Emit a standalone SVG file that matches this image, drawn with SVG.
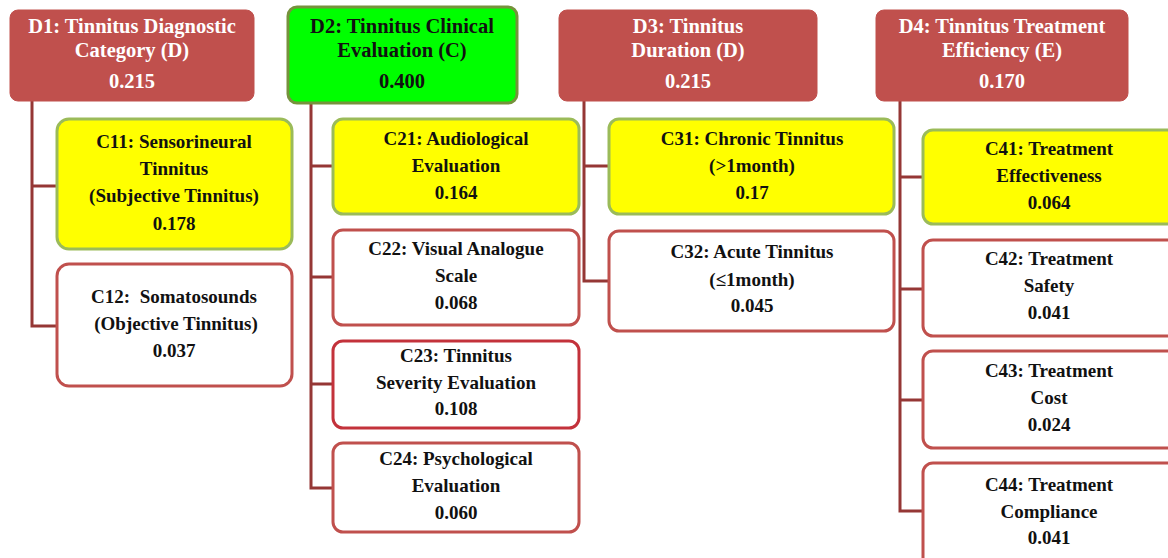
<svg xmlns="http://www.w3.org/2000/svg" width="1168" height="558" viewBox="0 0 1168 558">
<style>
text{font-family:"Liberation Serif","Times New Roman",serif;font-weight:bold;text-anchor:middle;}
.h{font-size:20.5px;fill:#ffffff;}
.h2{font-size:20.5px;fill:#111111;}
.c{font-size:19px;fill:#111111;white-space:pre;}
.dr{fill:#c0504d;stroke:#c0504d;stroke-width:1;}
.dg{fill:#00ff00;stroke:#76923c;stroke-width:3;}
.y{fill:#ffff00;stroke:#9bbb59;stroke-width:3;}
.w{fill:#ffffff;stroke:#c0504d;stroke-width:3;}
.w2{fill:#ffffff;stroke:#c3323b;stroke-width:3;}
.ln{fill:none;stroke:#953735;stroke-width:3;}
</style>
<rect width="1168" height="558" fill="#ffffff"/>
<g id="connectors">
<path class="ln" d="M32,101 V326 H57 M32,186 H57"/>
<path class="ln" d="M311,104 V488 H333 M311,166 H333 M311,277 H333 M311,384 H333"/>
<path class="ln" d="M584,101 V281 H609 M584,166 H609"/>
<path class="ln" d="M900,101 V511 H923 M900,177 H923 M900,289 H923 M900,400 H923"/>
</g>
<g id="D1"><rect class="dr" x="10" y="10" width="244" height="91" rx="8"/>
<text class="h" x="132" y="33">D1: Tinnitus Diagnostic</text><text class="h" x="132" y="57">Category (D)</text><text class="h" x="132" y="88">0.215</text></g>
<g id="D2"><rect class="dg" x="288" y="7" width="229" height="96" rx="9"/>
<text class="h2" x="402" y="33">D2: Tinnitus Clinical</text><text class="h2" x="402" y="57">Evaluation (C)</text><text class="h2" x="402" y="88">0.400</text></g>
<g id="D3"><rect class="dr" x="559" y="10" width="258" height="91" rx="8"/>
<text class="h" x="688" y="33">D3: Tinnitus</text><text class="h" x="688" y="57">Duration (D)</text><text class="h" x="688" y="88">0.215</text></g>
<g id="D4"><rect class="dr" x="876" y="10" width="252" height="91" rx="8"/>
<text class="h" x="1002" y="33">D4: Tinnitus Treatment</text><text class="h" x="1002" y="57">Efficiency (E)</text><text class="h" x="1002" y="88">0.170</text></g>
<g id="C11"><rect class="y" x="57" y="119" width="235" height="130" rx="12"/>
<text class="c" x="174" y="148">C11: Sensorineural</text><text class="c" x="174" y="175">Tinnitus</text><text class="c" x="174" y="202">(Subjective Tinnitus)</text><text class="c" x="174" y="230">0.178</text></g>
<g id="C12"><rect class="w" x="57" y="264" width="235" height="122" rx="12"/>
<text class="c" x="174" y="303">C12:  Somatosounds</text><text class="c" x="176" y="330">(Objective Tinnitus)</text><text class="c" x="174" y="357">0.037</text></g>
<g id="C21"><rect class="y" x="333" y="119" width="246" height="95" rx="10"/>
<text class="c" x="456" y="145">C21: Audiological</text><text class="c" x="456" y="172">Evaluation</text><text class="c" x="456" y="199">0.164</text></g>
<g id="C22"><rect class="w" x="333" y="230" width="246" height="95" rx="10"/>
<text class="c" x="456" y="255">C22: Visual Analogue</text><text class="c" x="456" y="282">Scale</text><text class="c" x="456" y="309">0.068</text></g>
<g id="C23"><rect class="w2" x="333" y="341" width="246" height="87" rx="10"/>
<text class="c" x="456" y="362">C23: Tinnitus</text><text class="c" x="456" y="389">Severity Evaluation</text><text class="c" x="456" y="415">0.108</text></g>
<g id="C24"><rect class="w" x="333" y="443" width="246" height="89" rx="10"/>
<text class="c" x="456" y="465">C24: Psychological</text><text class="c" x="456" y="492">Evaluation</text><text class="c" x="456" y="519">0.060</text></g>
<g id="C31"><rect class="y" x="609" y="119" width="285" height="95" rx="10"/>
<text class="c" x="752" y="145">C31: Chronic Tinnitus</text><text class="c" x="752" y="172">(&gt;1month)</text><text class="c" x="752" y="199">0.17</text></g>
<g id="C32"><rect class="w" x="609" y="231" width="285" height="100" rx="10"/>
<text class="c" x="752" y="258">C32: Acute Tinnitus</text><text class="c" x="752" y="286">(≤1month)</text><text class="c" x="752" y="312">0.045</text></g>
<g id="C41"><rect class="y" x="923" y="130" width="260" height="94" rx="10"/>
<text class="c" x="1049" y="155">C41: Treatment</text><text class="c" x="1049" y="182">Effectiveness</text><text class="c" x="1049" y="209">0.064</text></g>
<g id="C42"><rect class="w" x="923" y="240" width="260" height="96" rx="10"/>
<text class="c" x="1049" y="265">C42: Treatment</text><text class="c" x="1049" y="292">Safety</text><text class="c" x="1049" y="319">0.041</text></g>
<g id="C43"><rect class="w" x="923" y="351" width="260" height="97" rx="10"/>
<text class="c" x="1049" y="377">C43: Treatment</text><text class="c" x="1049" y="404">Cost</text><text class="c" x="1049" y="431">0.024</text></g>
<g id="C44"><rect class="w" x="923" y="463" width="260" height="110" rx="10"/>
<text class="c" x="1049" y="491">C44: Treatment</text><text class="c" x="1049" y="518">Compliance</text><text class="c" x="1049" y="544">0.041</text></g>
</svg>
